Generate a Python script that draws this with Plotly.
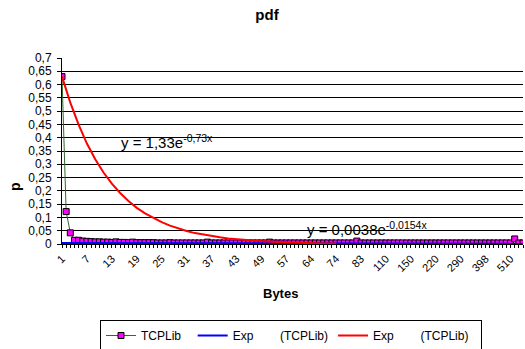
import plotly.graph_objects as go

# Category labels (bytes)
categories = [str(v) for v in list(range(1, 50)) + [
    50, 51, 52, 53, 55, 57,
    58, 59, 60, 61, 62, 64,
    65, 66, 68, 70, 72, 74,
    76, 77, 78, 80, 82, 83,
    86, 90, 94, 98, 104, 110,
    116, 120, 128, 134, 140, 150,
    160, 172, 180, 192, 200, 220,
    232, 240, 256, 264, 280, 290,
    300, 320, 336, 352, 370, 398,
    420, 440, 460, 480, 500, 510,
    512, 536, 576]]

tcplib = [
    0.63, 0.122, 0.042, 0.014, 0.014, 0.011, 0.010, 0.009, 0.008, 0.008,
    0.007, 0.007, 0.006, 0.008, 0.006, 0.006, 0.005, 0.007, 0.005, 0.005,
    0.005, 0.005, 0.005, 0.004, 0.004, 0.004, 0.005, 0.004, 0.004, 0.004,
    0.004, 0.004, 0.004, 0.004, 0.004, 0.007, 0.004, 0.004, 0.004, 0.004,
    0.004, 0.004, 0.004, 0.004, 0.004, 0.004, 0.004, 0.004, 0.004, 0.004,
    0.007, 0.004, 0.004, 0.004, 0.004, 0.004, 0.004, 0.004, 0.004, 0.004,
    0.004, 0.004, 0.004, 0.004, 0.004, 0.004, 0.004, 0.004, 0.004, 0.004,
    0.004, 0.011, 0.004, 0.004, 0.004, 0.004, 0.004, 0.004, 0.004, 0.004,
    0.004, 0.004, 0.004, 0.004, 0.004, 0.004, 0.004, 0.004, 0.004, 0.004,
    0.004, 0.004, 0.004, 0.004, 0.004, 0.004, 0.004, 0.004, 0.004, 0.004,
    0.004, 0.004, 0.004, 0.004, 0.004, 0.004, 0.004, 0.004, 0.004, 0.019,
    0.004, 0.004]

red_x = ["1", "3", "5", "7", "9", "11", "13", "15", "17", "19", "21", "23",
         "25", "27", "29", "31", "33", "35", "37", "39", "41", "45", "49",
         "53", "58", "62", "68", "74"]
red_y = [0.63, 0.532, 0.449, 0.378, 0.319, 0.269, 0.227, 0.192, 0.162, 0.136,
         0.115, 0.097, 0.082, 0.069, 0.058, 0.049, 0.041, 0.035, 0.030, 0.025,
         0.021, 0.015, 0.011, 0.0076, 0.0054, 0.0038, 0.0023, 0.0017]

blue_x = ["1", "11", "21", "31", "41", "51", "62", "74", "86", "160", "300", "576"]
blue_y = [0.0037, 0.0032, 0.0028, 0.0024, 0.0021, 0.0018, 0.0015, 0.0013,
          0.0011, 0.0010, 0.0008, 0.0007]

y_ticks = [0, 0.05, 0.1, 0.15, 0.2, 0.25, 0.3, 0.35, 0.4, 0.45, 0.5, 0.55, 0.6, 0.65, 0.7]
y_ticktext = ["0", "0,05", "0,1", "0,15", "0,2", "0,25", "0,3", "0,35", "0,4",
              "0,45", "0,5", "0,55", "0,6", "0,65", "0,7"]

x_ticktext = [c if i % 6 == 0 else "" for i, c in enumerate(categories)]

FONT = "Liberation Sans, Arial, sans-serif"
NB = "\u00a0" * 8

L, R, T, B = 62, 2, 58, 105
W, H = 525, 349
PW, PH = W - L - R, H - T - B

fig = go.Figure()
fig.add_trace(go.Scatter(
    x=categories, y=tcplib, mode="lines+markers", name="TCPLib\u00a0\u00a0",
    line=dict(color="#336633", width=1),
    marker=dict(symbol="square", size=6, color="#FF00FF",
                line=dict(color="black", width=1)),
))
fig.add_trace(go.Scatter(
    x=blue_x, y=blue_y, mode="lines", name="Exp" + NB + "(TCPLib)",
    line=dict(color="#0000FF", width=2),
))
fig.add_trace(go.Scatter(
    x=red_x, y=red_y, mode="lines", name="Exp" + NB + "(TCPLib)\u00a0\u00a0",
    line=dict(color="#FF0000", width=2),
))

fig.update_layout(
    width=W, height=H,
    margin=dict(l=L, r=R, t=T, b=B, autoexpand=False),
    paper_bgcolor="white", plot_bgcolor="white",
    font=dict(family=FONT, size=12, color="black"),
    showlegend=True,
    title=dict(text="<b>pdf</b>", font=dict(size=15), x=267 / W, xref="container",
               xanchor="center", y=1 - 15 / H, yref="container", yanchor="middle",
               automargin=False),
    legend=dict(orientation="h", x=(100 - L) / PW, xanchor="left",
                y=(244 - 320) / PH, yanchor="top",
                bordercolor="black", borderwidth=1, font=dict(size=12),
                bgcolor="white", tracegroupgap=0),
    xaxis=dict(
        type="category", categoryorder="array", categoryarray=categories,
        range=[0, len(categories) - 1], automargin=False,
        tickmode="array", tickvals=categories, ticktext=x_ticktext,
        tickangle=-45, tickfont=dict(size=11),
        ticks="outside", ticklen=3, tickcolor="black",
        showline=True, linecolor="black", linewidth=1,
        showgrid=False, zeroline=False,
    ),
    yaxis=dict(
        range=[0, 0.7], tickmode="array", tickvals=y_ticks, ticktext=y_ticktext,
        automargin=False, ticklabelstandoff=3,
        ticks="outside", ticklen=4, tickcolor="black",
        showline=True, linecolor="black", linewidth=1,
        showgrid=True, gridcolor="black", gridwidth=1, zeroline=False,
        tickfont=dict(size=12),
    ),
    annotations=[
        dict(x=13.7, y=0.385, xref="x", yref="y", xanchor="left", yanchor="middle",
             text="y = 1,33e<sup>-0,73x</sup>", showarrow=False, font=dict(size=15)),
        dict(x=58.5, y=0.06, xref="x", yref="y", xanchor="left", yanchor="middle",
             text="y = 0,0038e<sup>-0,0154x</sup>", showarrow=False, font=dict(size=15)),
        dict(x=(280 - L) / PW, y=(244 - 293) / PH, xref="paper", yref="paper",
             xanchor="center", yanchor="middle", text="<b>Bytes</b>",
             showarrow=False, font=dict(size=13)),
        dict(x=(15 - L) / PW, y=(244 - 187) / PH, xref="paper", yref="paper",
             xanchor="center", yanchor="middle", text="<b>p</b>", textangle=-90,
             showarrow=False, font=dict(size=14)),
    ],
)

fig.write_html("out.html", config={"displayModeBar": False},
               post_script="document.body.style.margin='0px';")
